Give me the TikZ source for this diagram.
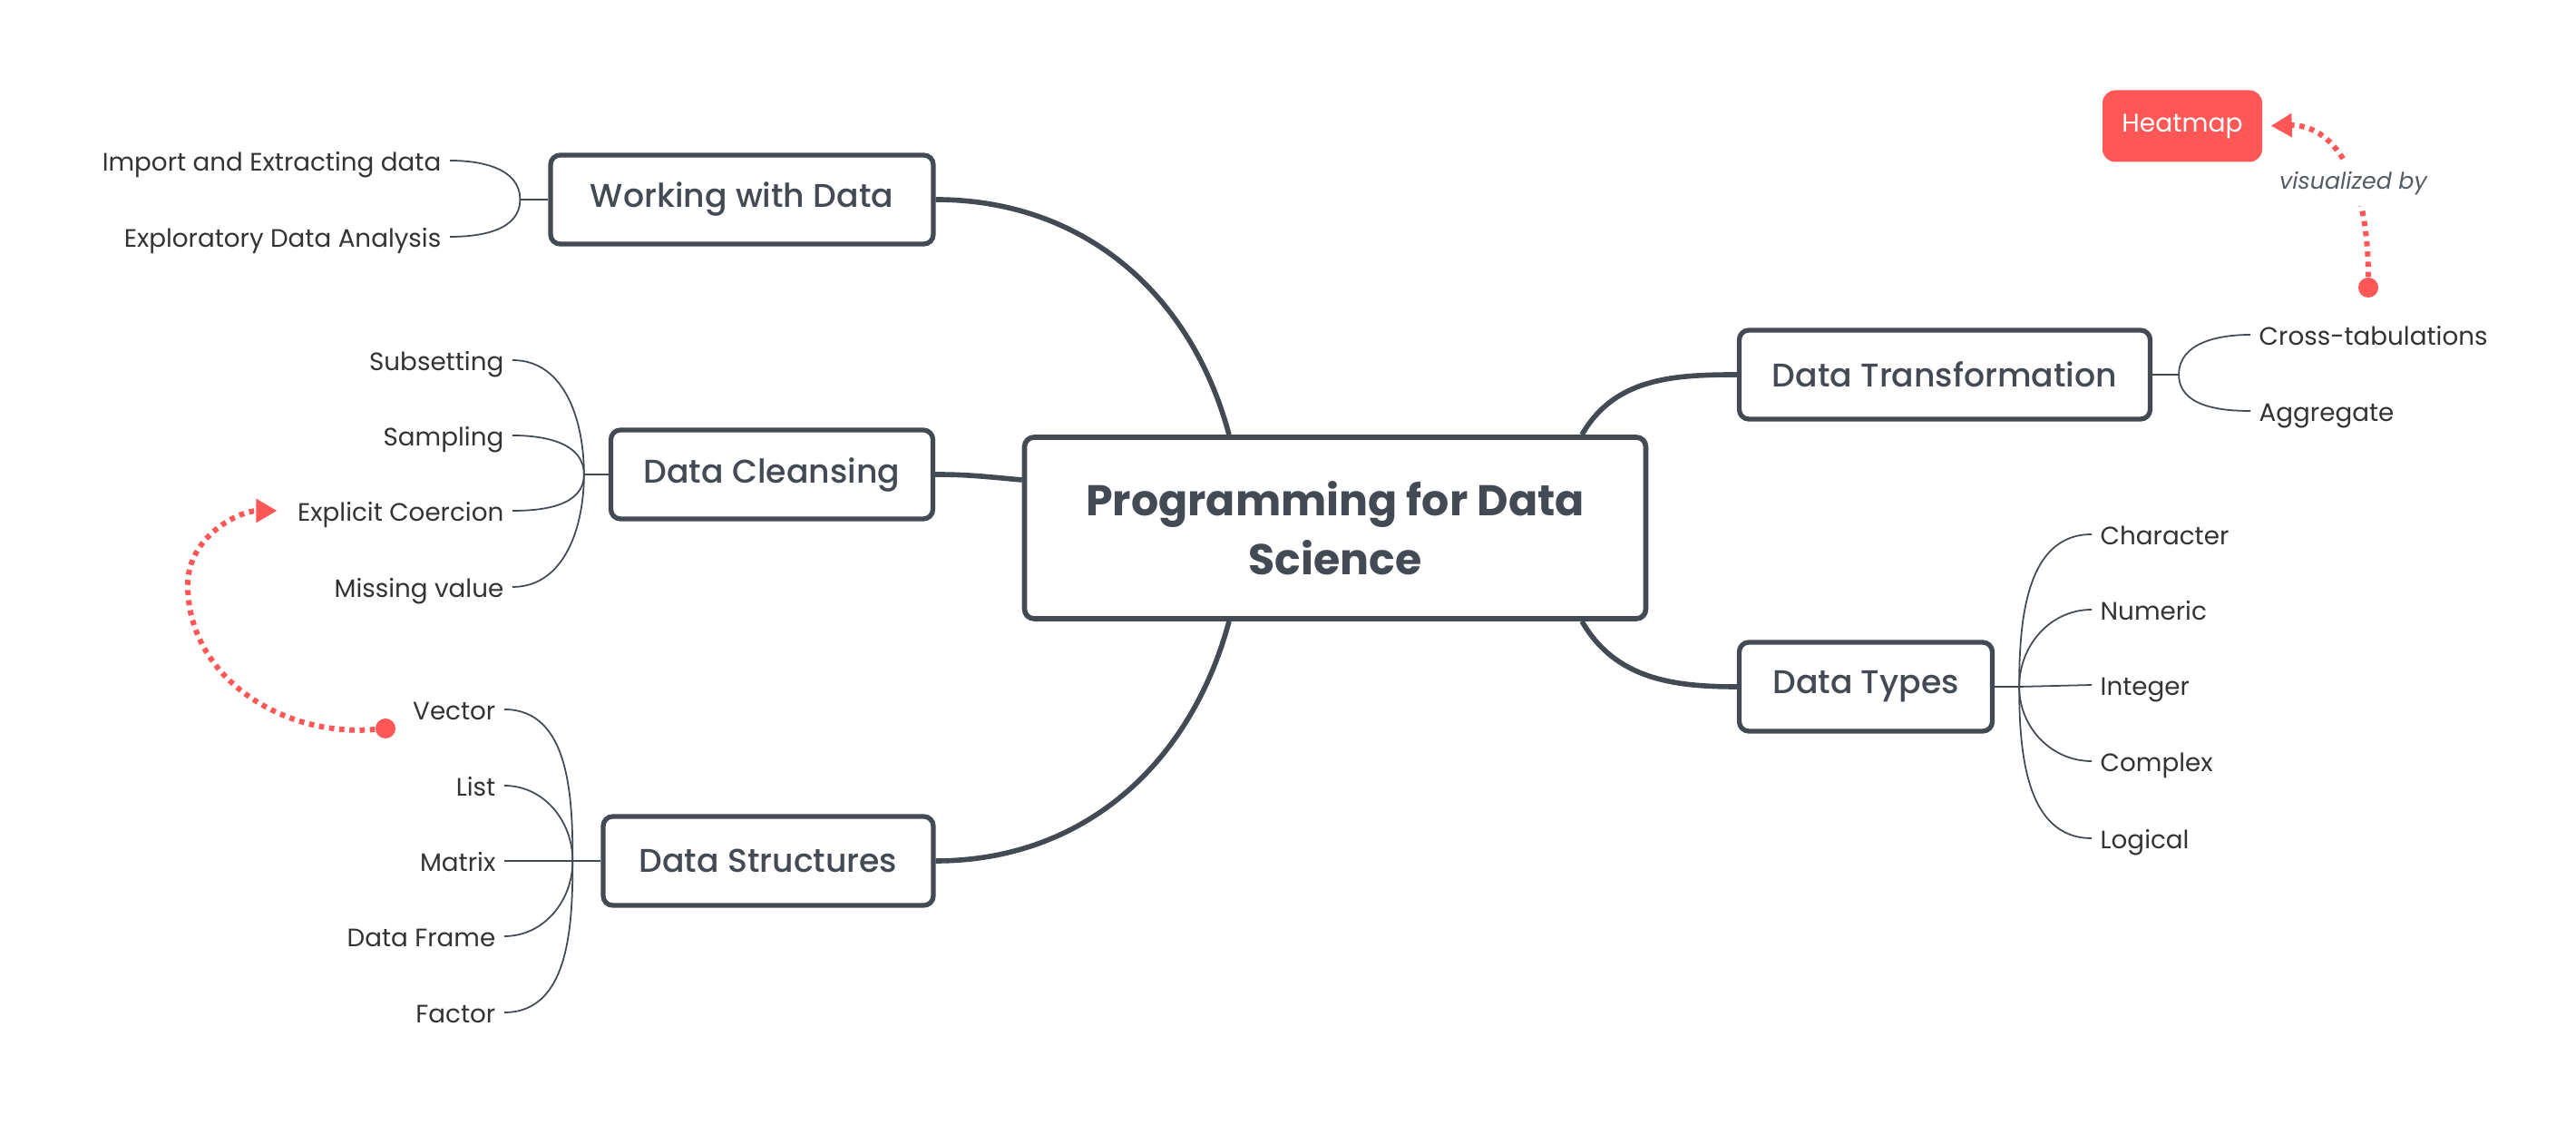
\documentclass[tikz,border=0pt]{standalone}
\usepackage{fontspec}
\setmainfont{Poppins}
\newfontfamily\topicfont{Poppins Medium}
\usetikzlibrary{positioning,arrows.meta}
\definecolor{ink}{HTML}{434A54}
\definecolor{leafink}{HTML}{333333}
\definecolor{coral}{HTML}{FF5656}
\definecolor{notegray}{HTML}{555B62}

\begin{document}
\begin{tikzpicture}[
  central/.style={draw=ink, line width=1.6pt, rounded corners=3pt, fill=white, text=ink, align=center,
    minimum width=6.85cm, minimum height=2cm, font=\fontsize{13.5}{18.5}\selectfont\bfseries},
  topic/.style={draw=ink, line width=1.5pt, rounded corners=3pt, fill=white, text=ink,
    minimum height=0.98cm, font=\topicfont\fontsize{10.3}{13}\selectfont},
  leaf/.style={text=leafink, inner xsep=0.09cm, inner ysep=0.05cm, text height=1.6ex, text depth=0.4ex,
    font=\fontsize{7.9}{10}\selectfont},
  trunk/.style={draw=ink, line width=1.6pt},
  twig/.style={draw=ink, line width=0.5pt},
  relation/.style={draw=coral, line width=1.7pt, dash pattern=on 1.6pt off 1.6pt,
    -{Triangle[length=0.23cm,width=0.25cm]}},
  reddot/.style={circle, fill=coral, inner sep=0pt, minimum size=0.22cm},
  ]
  \fill[white] (0,0) rectangle (28.4,12.5);
  \useasboundingbox (0,0) rectangle (28.4,12.5);

  % main topics
  \node[central] (core) at (14.72,6.68) {Programming for Data\\Science};
  \node[topic, minimum width=4.22cm] (work) at (8.18,10.30) {Working with Data};
  \node[topic, minimum width=3.55cm] (clean) at (8.51,7.27) {Data Cleansing};
  \node[topic, minimum width=3.64cm] (struct) at (8.47,3.01) {Data Structures};
  \node[topic, minimum width=4.53cm] (trans) at (21.44,8.37) {Data Transformation};
  \node[topic, minimum width=2.79cm] (types) at (20.57,4.93) {Data Types};
  \node[fill=coral, rounded corners=4pt, text=white, minimum width=1.76cm, minimum height=0.79cm,
    font=\fontsize{8}{10}\selectfont] (heat) at (24.06,11.11) {Heatmap};

  % branch points
  \coordinate[left=0.31cm of work] (workj);
  \coordinate[left=0.27cm of clean] (cleanj);
  \coordinate[left=0.31cm of struct] (structj);
  \coordinate[right=0.29cm of trans] (transj);
  \coordinate[right=0.27cm of types] (typesj);

  % subtopics
  \node[leaf, anchor=east] (imp) at (4.96,10.73) {Import and Extracting data};
  \node[leaf, anchor=east] (eda) at (4.96,9.89) {Exploratory Data Analysis};
  \node[leaf, anchor=east] (subs) at (5.65,8.53) {Subsetting};
  \node[leaf, anchor=east] (samp) at (5.65,7.70) {Sampling};
  \node[leaf, anchor=east] (coerc) at (5.65,6.87) {Explicit Coercion};
  \node[leaf, anchor=east] (miss) at (5.65,6.03) {Missing value};
  \node[leaf, anchor=east] (vec) at (5.56,4.68) {Vector};
  \node[leaf, anchor=east] (lst) at (5.56,3.84) {List};
  \node[leaf, anchor=east] (mat) at (5.56,3.01) {Matrix};
  \node[leaf, anchor=east] (frame) at (5.56,2.18) {Data Frame};
  \node[leaf, anchor=east] (fact) at (5.56,1.34) {Factor};
  \node[leaf, anchor=west] (xtab) at (24.81,8.81) {Cross-tabulations};
  \node[leaf, anchor=west] (aggr) at (24.81,7.97) {Aggregate};
  \node[leaf, anchor=west] (chr) at (23.06,6.61) {Character};
  \node[leaf, anchor=west] (num) at (23.06,5.78) {Numeric};
  \node[leaf, anchor=west] (intg) at (23.06,4.95) {Integer};
  \node[leaf, anchor=west] (cplx) at (23.06,4.11) {Complex};
  \node[leaf, anchor=west] (lgc) at (23.06,3.26) {Logical};

  % trunks
  \draw[trunk] (work.east) to[out=0,in=105] ([xshift=-1.17cm]core.north);
  \draw[trunk] (clean.east) to[out=0,in=175] ([yshift=0.53cm]core.west);
  \draw[trunk] (struct.east) to[out=0,in=-105] ([xshift=-1.17cm]core.south);
  \draw[trunk] ([xshift=2.72cm]core.north) to[out=60,in=180] (trans.west);
  \draw[trunk] ([xshift=2.72cm]core.south) to[out=-60,in=180] (types.west);

  % twigs
  \draw[twig] (work.west) -- (workj);
  \draw[twig] (workj) to[out=90,in=0] (imp.east);
  \draw[twig] (workj) to[out=-90,in=0] (eda.east);

  \draw[twig] (clean.west) -- (cleanj);
  \draw[twig] (cleanj) to[out=90,in=0] (subs.east);
  \draw[twig] (cleanj) to[out=90,in=0] (samp.east);
  \draw[twig] (cleanj) to[out=-90,in=0] (coerc.east);
  \draw[twig] (cleanj) to[out=-90,in=0] (miss.east);

  \draw[twig] (struct.west) -- (structj);
  \draw[twig] (structj) to[out=90,in=0] (vec.east);
  \draw[twig] (structj) to[out=90,in=0] (lst.east);
  \draw[twig] (structj) -- (mat.east);
  \draw[twig] (structj) to[out=-90,in=0] (frame.east);
  \draw[twig] (structj) to[out=-90,in=0] (fact.east);

  \draw[twig] (trans.east) -- (transj);
  \draw[twig] (transj) to[out=90,in=180] (xtab.west);
  \draw[twig] (transj) to[out=-90,in=180] (aggr.west);

  \draw[twig] (types.east) -- (typesj);
  \draw[twig] (typesj) to[out=90,in=180] (chr.west);
  \draw[twig] (typesj) to[out=90,in=180] (num.west);
  \draw[twig] (typesj) -- (intg.west);
  \draw[twig] (typesj) to[out=-90,in=180] (cplx.west);
  \draw[twig] (typesj) to[out=-90,in=180] (lgc.west);

  % relations
  \node[reddot] (hdot) at (26.11,9.33) {};
  \draw[relation, shorten >=0.09cm] (hdot) .. controls (26.11,10.6) and (25.7,11.13) .. (heat.east)
    node[pos=0.37, fill=white, text=notegray, font=\fontsize{7.2}{9}\selectfont\itshape] {visualized by};

  \node[reddot] (vdot) at (4.25,4.47) {};
  \coordinate (bend) at (2.07,6.05);
  \draw[relation, shorten >=0.13cm] (vdot) to[out=185,in=-90] (bend) to[out=90,in=180] (coerc.west);
\end{tikzpicture}
\end{document}
